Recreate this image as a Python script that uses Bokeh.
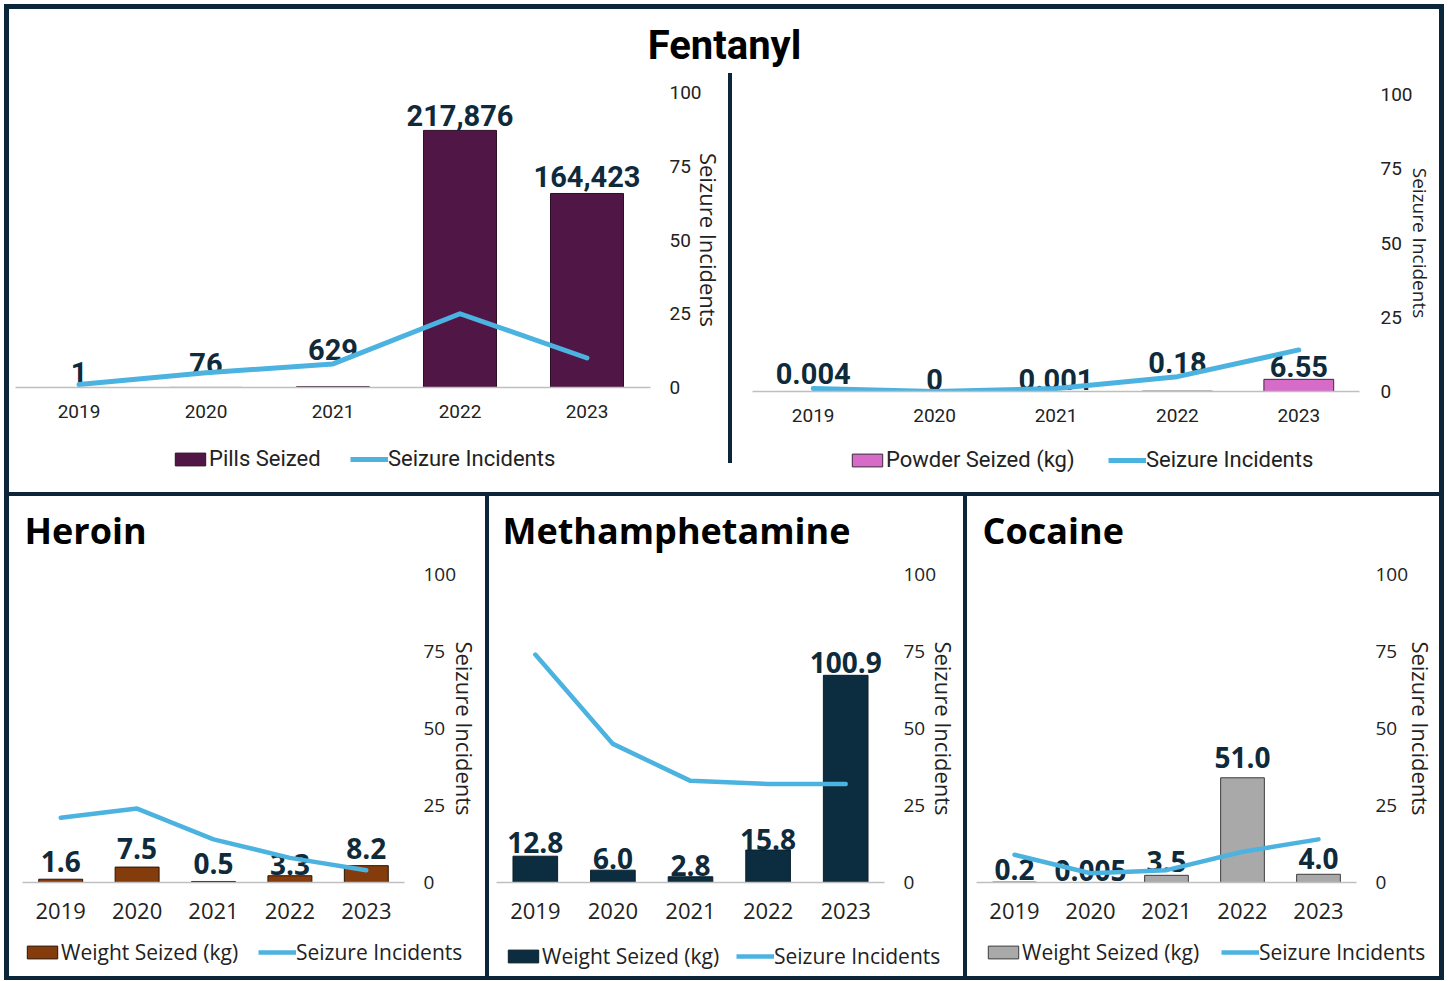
from bokeh.plotting import figure
from bokeh.models import (FactorRange, Range1d, LinearAxis, Legend, LegendItem,
                          ColumnDataSource, Spacer, FixedTicker)
from bokeh.layouts import row, column
from bokeh.embed import file_html
from bokeh.resources import INLINE
from bokeh.core.properties import value

# ---------------- data ----------------
years = ["2019", "2020", "2021", "2022", "2023"]
incident_ticks = [0, 25, 50, 75, 100]

pills_seized = [1, 76, 629, 217876, 164423]
pills_incidents = [1, 5, 8, 25, 10]
pills_labels = ["1", "76", "629", "217,876", "164,423"]

powder_kg = [0.004, 0, 0.001, 0.18, 6.55]
powder_incidents = [1, 0, 1, 5, 14]
powder_labels = ["0.004", "0", "0.001", "0.18", "6.55"]

heroin_kg = [1.6, 7.5, 0.5, 3.3, 8.2]
heroin_incidents = [21, 24, 14, 8, 4]
heroin_labels = ["1.6", "7.5", "0.5", "3.3", "8.2"]

meth_kg = [12.8, 6.0, 2.8, 15.8, 100.9]
meth_incidents = [74, 45, 33, 32, 32]
meth_labels = ["12.8", "6.0", "2.8", "15.8", "100.9"]

cocaine_kg = [0.2, 0.005, 3.5, 51.0, 4.0]
cocaine_incidents = [9, 3, 4, 10, 14]
cocaine_labels = ["0.2", "0.005", "3.5", "51.0", "4.0"]

# label nudges (pixels above bar top) - styling only
pills_dy = [15, 24, 37, 15, 17]
powder_dy = [18, 12, 12, 29, 13]
heroin_dy = [18, 19, 18, 11, 17]
meth_dy = [14, 12, 11, 11, 13]
cocaine_dy = [13, 12, 14, 20, 16]

# ---------------- style ----------------
NAVY = "#0b2638"
LABEL = "#0e2a3b"
BLUE = "#4cb3e1"
TXT = "#222222"


def bare(w, h, **kw):
    f = figure(width=w, height=h, toolbar_location=None, output_backend="svg",
               x_axis_location=None, y_axis_location=None, min_border=0,
               outline_line_color=None, **kw)
    f.xgrid.visible = False
    f.ygrid.visible = False
    return f


def make_source(vals, inc, labels, dy):
    return ColumnDataSource(dict(year=years, val=vals, inc=inc, label=labels,
                                 dy=[-d for d in dy]))


def chart(src, bar_max, color, outline, g):
    p = figure(width=g["w"], height=g["h"], x_range=FactorRange(factors=years),
               y_range=Range1d(0, bar_max), y_axis_location=None,
               toolbar_location=None, output_backend="svg",
               min_border_left=g["ml"], min_border_right=g["mr"],
               min_border_top=g["mt"], min_border_bottom=g["mb"],
               background_fill_color="white", border_fill_color="white",
               outline_line_color=None)
    p.extra_y_ranges = {"inc": Range1d(0, 100)}
    p.xgrid.visible = False
    p.ygrid.visible = False

    xa = p.xaxis[0]
    xa.axis_line_color = "#bfbfbf"
    xa.axis_line_width = 1.5
    xa.major_tick_line_color = None
    xa.minor_tick_line_color = None
    xa.major_tick_out = 0
    xa.major_tick_in = 0
    xa.major_label_standoff = g["xs"]
    xa.major_label_text_font = g["font"]
    xa.major_label_text_font_size = g["xfs"]
    xa.major_label_text_color = TXT

    ax = LinearAxis(y_range_name="inc", ticker=FixedTicker(ticks=incident_ticks),
                    axis_label="Seizure Incidents")
    ax.axis_line_color = None
    ax.major_tick_line_color = None
    ax.minor_tick_line_color = None
    ax.major_tick_out = 0
    ax.major_tick_in = 0
    ax.major_label_standoff = g["rs"]
    ax.major_label_text_font = g["font"]
    ax.major_label_text_font_size = g["rfs"]
    ax.major_label_text_color = TXT
    ax.axis_label_text_font = "Open Sans"
    ax.axis_label_text_font_style = "normal"
    ax.axis_label_text_font_size = g["afs"]
    ax.axis_label_text_color = TXT
    ax.axis_label_standoff = g["as"]
    p.add_layout(ax, "right")

    p.vbar(x="year", top="val", width=0.575, source=src,
           fill_color=color, line_color=outline, line_width=1)
    p.text(x="year", y="val", text="label", y_offset="dy", source=src,
           text_align="center", text_baseline="middle",
           text_font=value(g["font"]), text_font_style="bold",
           text_font_size=g["lfs"], text_color=LABEL)
    p.line(x="year", y="inc", y_range_name="inc", source=src,
           line_color=BLUE, line_width=g["lw"], line_cap="round",
           line_join="round")
    return p


def legend_strip(w, h, src, color, outline, bar_name, g):
    f = bare(w, h, x_range=FactorRange(factors=years), y_range=Range1d(0, 1))
    rb = f.vbar(x="year", top="val", width=0.5, source=src, fill_color=color,
                line_color=outline, line_width=1, visible=False)
    rl = f.line(x="year", y="inc", source=src, line_color=BLUE,
                line_width=g["lw"], visible=False)
    leg = Legend(items=[LegendItem(label=bar_name, renderers=[rb]),
                        LegendItem(label="Seizure Incidents", renderers=[rl])],
                 orientation="horizontal", location=(g["lx"], g["ly"]),
                 margin=0, padding=0, spacing=10, glyph_width=38,
                 glyph_height=16, label_standoff=0, label_width=g["lw2"],
                 label_text_font=g["font"], label_text_font_size=g["legfs"],
                 label_text_color=TXT, border_line_color=None,
                 background_fill_alpha=0, inactive_fill_alpha=0)
    f.add_layout(leg)
    # wrapped in a row so its frame is not aligned with the chart above
    return row(f)


def title_strip(w, h, text, font, size, align, offset):
    f = bare(w, h, title=text, x_range=Range1d(0, 1), y_range=Range1d(0, 1))
    f.title.align = align
    f.title.offset = offset
    f.title.standoff = 0
    f.title.text_font = font
    f.title.text_font_style = "bold"
    f.title.text_font_size = size
    f.title.text_color = "#000000"
    return row(f)


def navy(w, h):
    return Spacer(width=w, height=h, styles={"background-color": NAVY})


top_common = dict(font="Roboto", xfs="19px", rfs="19px", lfs="29px",
                  legfs="22px", lw=5, xs=17)
left_g = dict(top_common, w=719, h=354, ml=6, mr=78, mt=19, mb=40, rs=19,
              afs="22px", **{"as": -11}, lx=162, ly=21, lw2=131)
right_g = dict(top_common, w=707, h=358, ml=20, mr=80, mt=21, mb=40, rs=21,
               afs="19px", **{"as": -9}, lx=116, ly=20, lw2=212)

bot_common = dict(h=377, mt=17, mb=52, font="Open Sans", xfs="22px",
                  rfs="19px", lfs="28px", legfs="21px", lw=4.5, xs=20, rs=19,
                  afs="22px")
heroin_g = dict(bot_common, w=476, ml=13, mr=81, **{"as": -9}, lx=14, ly=10,
                lw2=187)
meth_g = dict(bot_common, w=474, ml=7, mr=79, **{"as": -10}, lx=15, ly=6,
              lw2=184)
coke_g = dict(bot_common, w=472, ml=9, mr=78, **{"as": -5}, lx=17, ly=10,
              lw2=189)

# ---------------- top panel (Fentanyl) ----------------
s_pills = make_source(pills_seized, pills_incidents, pills_labels, pills_dy)
s_powder = make_source(powder_kg, powder_incidents, powder_labels, powder_dy)

p_pills = chart(s_pills, 250000, "#4f1646", "#2a1026", left_g)
l_pills = legend_strip(719, 65, s_pills, "#4f1646", "#2a1026", "Pills Seized",
                       left_g)
p_powder = chart(s_powder, 160, "#d66cc8", "#3a2a38", right_g)
l_powder = legend_strip(707, 61, s_powder, "#d66cc8", "#3a2a38",
                        "Powder Seized (kg)", right_g)

tf = title_strip(1430, 54, "Fentanyl", "Roboto", "40px", "center", 0)

top_row = row(column(p_pills, l_pills), navy(4, 390), column(p_powder, l_powder))
top_panel = column(Spacer(width=1430, height=10), tf, top_row)


# ---------------- bottom panels ----------------
def bottom_panel(name, vals, inc, labels, dy, color, outline, g, toff):
    src = make_source(vals, inc, labels, dy)
    w = g["w"]
    t = title_strip(w, 54, name, "Open Sans", "36px", "left", toff)
    c = chart(src, 150, color, outline, g)
    lg = legend_strip(w, 42, src, color, outline, "Weight Seized (kg)", g)
    return column(Spacer(width=w, height=7), t, c, lg)


b_heroin = bottom_panel("Heroin", heroin_kg, heroin_incidents, heroin_labels,
                        heroin_dy, "#843c0c", "#2b1305", heroin_g, 15)
b_meth = bottom_panel("Methamphetamine", meth_kg, meth_incidents, meth_labels,
                      meth_dy, "#0c2d40", "#0a1f2c", meth_g, 13)
b_coke = bottom_panel("Cocaine", cocaine_kg, cocaine_incidents, cocaine_labels,
                      cocaine_dy, "#a9a9a9", "#3c3c3c", coke_g, 15)

bottom_row = row(b_heroin, navy(4, 480), b_meth, navy(4, 480), b_coke)
inner = column(top_panel, navy(1430, 4), bottom_row,
               styles={"background-color": "white"})
framed = column(navy(1440, 5), row(navy(5, 967), inner, navy(5, 967)),
                navy(1440, 4))
root = column(Spacer(width=1444, height=4), row(Spacer(width=4, height=976), framed))

open("out.html", "w").write(file_html(root, INLINE))
